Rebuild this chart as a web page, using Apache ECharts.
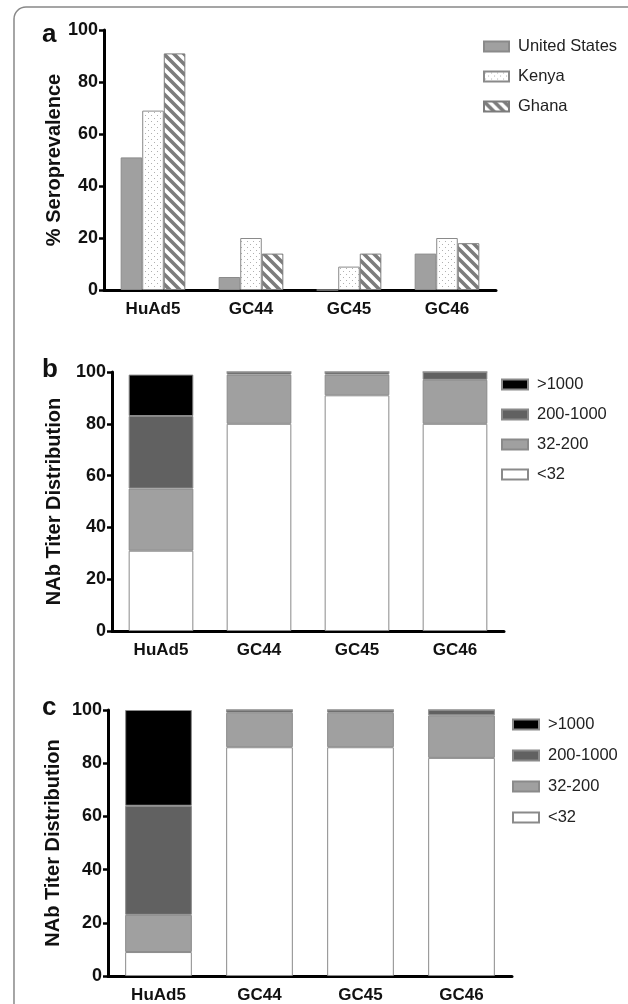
<!DOCTYPE html>
<html><head><meta charset="utf-8">
<script src="https://cdn.jsdelivr.net/npm/echarts@6/dist/echarts.min.js"></script>
<style>html,body{margin:0;padding:0;background:#fff;}#c{width:628px;height:1004px;}</style>
</head><body><div id="c"></div>
<script>
const categories = ['HuAd5', 'GC44', 'GC45', 'GC46'];
// Panel a: % seroprevalence
const unitedStates = [51, 5, 0, 14];
const kenya = [69, 20, 9, 20];
const ghana = [91, 14, 14, 18];
// Panel b: NAb titer distribution
const bLt32 = [31, 80, 91, 80];
const b32to200 = [24, 19, 8, 17];
const b200to1000 = [28, 1, 1, 3];
const bGt1000 = [16, 0, 0, 0];
// Panel c: NAb titer distribution
const cLt32 = [9, 86, 86, 82];
const c32to200 = [14, 13, 13, 16];
const c200to1000 = [41, 1, 1, 2];
const cGt1000 = [36, 0, 0, 0];
const yTicks = [0, 20, 40, 60, 80, 100];

function stripes() {
  const cv = document.createElement('canvas'); cv.width = 10; cv.height = 10;
  const ctx = cv.getContext('2d');
  ctx.fillStyle = '#fff'; ctx.fillRect(0, 0, 10, 10);
  ctx.strokeStyle = '#7c7c7c'; ctx.lineWidth = 3.6;
  ctx.beginPath();
  ctx.moveTo(-5, -5); ctx.lineTo(15, 15);
  ctx.moveTo(-5, 5); ctx.lineTo(5, 15);
  ctx.moveTo(5, -5); ctx.lineTo(15, 5);
  ctx.stroke();
  return { image: cv, repeat: 'repeat' };
}
function dots() {
  const cv = document.createElement('canvas'); cv.width = 6; cv.height = 6;
  const ctx = cv.getContext('2d');
  ctx.fillStyle = '#fff'; ctx.fillRect(0, 0, 6, 6);
  ctx.fillStyle = '#b0b0b0';
  ctx.fillRect(1, 1, 1, 1); ctx.fillRect(4, 4, 1, 1);
  return { image: cv, repeat: 'repeat' };
}

const FONT = 'Liberation Sans, Arial, sans-serif';
const grids = [
  { left: 104, top: 30, width: 392, height: 260 },
  { left: 112, top: 372, width: 392, height: 259 },
  { left: 108, top: 710, width: 404, height: 267 }
];
const yNames = ['% Seroprevalence', 'NAb Titer Distribution', 'NAb Titer Distribution'];
const nameGaps = [40, 48, 45];

const xAxes = grids.map((g, i) => ({
  type: 'category', gridIndex: i, data: categories,
  axisLine: { lineStyle: { color: '#000', width: 3 } },
  axisTick: { alignWithLabel: true, length: 5, lineStyle: { color: '#000', width: 2.5 } },
  axisLabel: { color: '#111', fontFamily: FONT, fontWeight: 'bold', fontSize: 17, margin: 11 }
}));
const yAxes = grids.map((g, i) => ({
  type: 'value', gridIndex: i, min: 0, max: 100, interval: 20,
  name: yNames[i], nameLocation: 'middle', nameGap: nameGaps[i], nameMoveOverlap: false,
  nameTextStyle: { color: '#111', fontFamily: FONT, fontWeight: 'bold', fontSize: 20 },
  splitLine: { show: false },
  axisLine: { show: true, lineStyle: { color: '#000', width: 3 } },
  axisTick: { show: true, length: 5, lineStyle: { color: '#000', width: 2.5 } },
  axisLabel: { color: '#111', fontFamily: FONT, fontWeight: 'bold', fontSize: 18, margin: 6,
    formatter: v => yTicks.includes(v) ? String(v) : '' }
}));

const border = { borderColor: '#8a8a8a', borderWidth: 1 };
const series = [
  { name: 'United States', type: 'bar', xAxisIndex: 0, yAxisIndex: 0, data: unitedStates,
    barGap: '0%', barCategoryGap: '34%', itemStyle: Object.assign({ color: '#a0a0a0' }, border) },
  { name: 'Kenya', type: 'bar', xAxisIndex: 0, yAxisIndex: 0, data: kenya,
    barGap: '0%', barCategoryGap: '34%', itemStyle: Object.assign({ color: dots() }, border) },
  { name: 'Ghana', type: 'bar', xAxisIndex: 0, yAxisIndex: 0, data: ghana,
    barGap: '0%', barCategoryGap: '34%', itemStyle: Object.assign({ color: stripes() }, { borderColor: '#7c7c7c', borderWidth: 1 }) }
];
const stackCols = { '<32': '#ffffff', '32-200': '#a0a0a0', '200-1000': '#616161', '>1000': '#000000' };
function addStack(idx, arrs) {
  const names = ['<32', '32-200', '200-1000', '>1000'];
  names.forEach((n, k) => {
    series.push({ name: n, type: 'bar', stack: 's' + idx, xAxisIndex: idx, yAxisIndex: idx,
      data: arrs[k], barCategoryGap: '34%',
      itemStyle: Object.assign({ color: stackCols[n] }, border) });
  });
}
addStack(1, [bLt32, b32to200, b200to1000, bGt1000]);
addStack(2, [cLt32, c32to200, c200to1000, cGt1000]);

const legendText = { color: '#222', fontFamily: FONT, fontSize: 16.5, padding: [0, 0, 0, 4] };
const chart = echarts.init(document.getElementById('c'), null, { renderer: 'canvas' });
chart.setOption({
  animation: false,
  backgroundColor: '#fff',
  grid: grids,
  xAxis: xAxes,
  yAxis: yAxes,
  series: series,
  legend: [
    { orient: 'vertical', left: 478, top: 33, itemWidth: 25, itemHeight: 10, itemGap: 13, icon: 'rect',
      data: ['United States', 'Kenya', 'Ghana'], textStyle: legendText, selectedMode: false },
    { orient: 'vertical', left: 496, top: 371, itemWidth: 26, itemHeight: 10, itemGap: 13, icon: 'rect',
      data: ['>1000', '200-1000', '32-200', '<32'], textStyle: legendText, selectedMode: false },
    { orient: 'vertical', left: 507, top: 711, itemWidth: 26, itemHeight: 10, itemGap: 14, icon: 'rect',
      data: ['>1000', '200-1000', '32-200', '<32'], textStyle: legendText, selectedMode: false }
  ],
  graphic: [
    { type: 'rect', shape: { x: 14, y: 7, width: 700, height: 1100, r: 12 },
      style: { fill: 'none', stroke: '#888', lineWidth: 1.5 }, silent: true },
    { type: 'text', left: 42, top: 22, style: { text: 'a', fontFamily: FONT, fontWeight: 'bold', fontSize: 26, fill: '#111' } },
    { type: 'text', left: 42, top: 357, style: { text: 'b', fontFamily: FONT, fontWeight: 'bold', fontSize: 26, fill: '#111' } },
    { type: 'text', left: 42, top: 695, style: { text: 'c', fontFamily: FONT, fontWeight: 'bold', fontSize: 26, fill: '#111' } }
  ]
});
</script></body></html>
